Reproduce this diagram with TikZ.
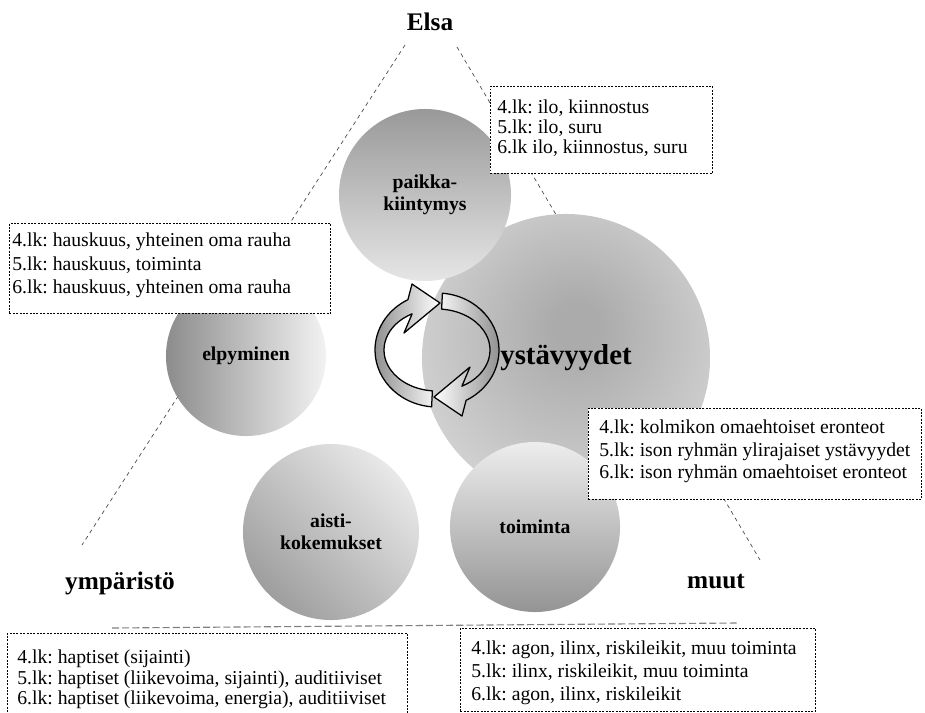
\documentclass[tikz,border=0pt]{standalone}
\usepackage{fontspec}
\setmainfont{Liberation Serif}
\usetikzlibrary{positioning}
\frenchspacing

\definecolor{paikkatop}{gray}{0.60}
\definecolor{paikkabot}{gray}{0.90}
\definecolor{elpyleft}{gray}{0.55}
\definecolor{elpyright}{gray}{0.95}
\definecolor{aistilight}{gray}{0.91}
\definecolor{aistidark}{gray}{0.62}
\definecolor{toimtop}{gray}{0.93}
\definecolor{toimbot}{gray}{0.58}
\definecolor{ystdark}{gray}{0.67}
\definecolor{ystlight}{gray}{0.93}
\pgfdeclareradialshading{ystshade}{\pgfpoint{2bp}{6bp}}{color(0bp)=(ystdark); color(4bp)=(ystdark); color(46bp)=(ystlight); color(50bp)=(ystlight)}

\begin{document}
\begin{tikzpicture}[x=0.025cm, y=-0.025cm,
    sidedash/.style={gray!60!black, line width=0.5pt, dash pattern=on 2.8pt off 2.6pt},
    basedash/.style={gray, line width=0.8pt, dash pattern=on 5pt off 2.2pt},
    ball/.style={circle, inner sep=0pt, align=center, font=\fontsize{14pt}{16pt}\selectfont\bfseries},
    lkbox/.style={draw, fill=white, line width=0.6pt, dash pattern=on 1.4pt off 1pt, anchor=north west, inner sep=0pt},
    lktext/.style={anchor=north west, inner sep=0pt, align=left, font=\fontsize{14pt}{#1}\selectfont},
    corner/.style={anchor=base, font=\fontsize{18pt}{20pt}\selectfont\bfseries},
    cyclearrow/.style={draw=black, line width=0.9pt, line join=round}
  ]
  \useasboundingbox (0,0) rectangle (925,712);

  % Triangle sides
  \coordinate (elsaleft) at (405,45);
  \coordinate (ymparistotop) at (82,545);
  \coordinate (elsaright) at (457,47);
  \coordinate (muuttop) at (760,560);
  \coordinate (baseleft) at (112,628);
  \coordinate (baseright) at (737,623);
  \draw[sidedash] (elsaleft) -- (ymparistotop);
  \draw[sidedash] (elsaright) -- (muuttop);
  \draw[basedash] (baseleft) -- (baseright);

  % Circles
  \node[ball, minimum size=7.2cm, shading=ystshade, font=\fontsize{20.5pt}{22pt}\selectfont\bfseries] (ystavyydet) at (566,358) {ystävyydet};
  \node[ball, minimum size=4.3cm, top color=paikkatop, bottom color=paikkabot] (paikka) at (425,195) {paikka-\\kiintymys};
  \node[ball, minimum size=4cm, left color=elpyleft, right color=elpyright] (elpyminen) at (246,356) {elpyminen};
  \node[ball, minimum size=4.4cm, top color=aistilight, bottom color=aistidark, shading angle=-45] (aisti) at (331,532) {aisti-\\kokemukset};
  \node[ball, minimum size=4.25cm, top color=toimtop, bottom color=toimbot] (toiminta) at (535,527) {toiminta};

  % Cycle arrows
  \begin{scope}[shift={(437,350)}, yscale=-1]
    \draw[cyclearrow, left color=gray!90, right color=white]
      (265:62 and 57) arc[start angle=265, end angle=118, x radius=62, y radius=57]
      -- (-25,66) -- (3,47) -- (-33,17) -- (118:53 and 41)
      arc[start angle=118, end angle=265, x radius=53, y radius=41] -- cycle;
  \end{scope}
  \begin{scope}[shift={(437,350)}, yscale=-1, rotate=180]
    \draw[cyclearrow, left color=white, right color=gray!90]
      (265:62 and 57) arc[start angle=265, end angle=118, x radius=62, y radius=57]
      -- (-25,66) -- (3,47) -- (-33,17) -- (118:53 and 41)
      arc[start angle=118, end angle=265, x radius=53, y radius=41] -- cycle;
  \end{scope}

  % Boxes
  \node[lkbox, minimum width=5.55cm, minimum height=2.175cm] (elsabox) at (490,86) {};
  \node[lktext=14.2pt] (elsatext) at ([shift={(7,13.6)}]elsabox.north west)
    {4.lk: ilo, kiinnostus\\5.lk: ilo, suru\\6.lk ilo, kiinnostus, suru};

  \node[lkbox, minimum width=8.025cm, minimum height=2.25cm] (elpybox) at (9,223) {};
  \node[lktext=16.7pt] (elpytext) at ([shift={(3,9.6)}]elpybox.north west)
    {4.lk: hauskuus, yhteinen oma rauha\\5.lk: hauskuus, toiminta\\6.lk: hauskuus, yhteinen oma rauha};

  \node[lkbox, minimum width=8.325cm, minimum height=2.275cm] (ystbox) at (588,408) {};
  \node[lktext=16pt] (ysttext) at ([shift={(11,11.6)}]ystbox.north west)
    {4.lk: kolmikon omaehtoiset eronteot\\5.lk: ison ryhmän ylirajaiset ystävyydet\\6.lk: ison ryhmän omaehtoiset eronteot};

  \node[lkbox, minimum width=10cm, minimum height=2.375cm] (aistibox) at (7,633) {};
  \node[lktext=14.6pt] (aistitext) at ([shift={(10,16.6)}]aistibox.north west)
    {4.lk: haptiset (sijainti)\\5.lk: haptiset (liikevoima, sijainti), auditiiviset\\6.lk: haptiset (liikevoima, energia), auditiiviset};

  \node[lkbox, minimum width=8.875cm, minimum height=2.075cm] (toimbox) at (460,628) {};
  \node[lktext=16.2pt] (toimtext) at ([shift={(11,12.6)}]toimbox.north west)
    {4.lk: agon, ilinx, riskileikit, muu toiminta\\5.lk: ilinx, riskileikit, muu toiminta\\6.lk: agon, ilinx, riskileikit};

  % Corner labels
  \node[corner] (elsa) at (430,30) {Elsa};
  \node[corner] (ymparisto) at (120,589) {ympäristö};
  \node[corner] (muut) at (716,588) {muut};

\end{tikzpicture}
\end{document}
